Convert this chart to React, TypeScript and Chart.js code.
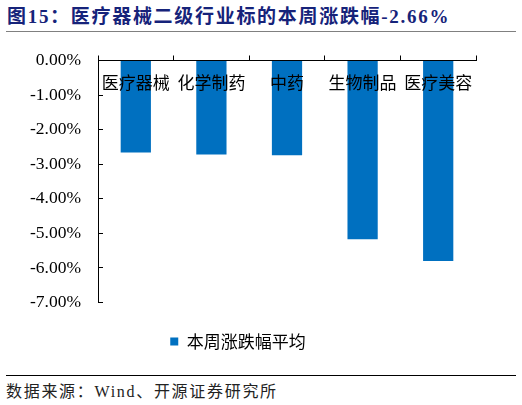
import { useEffect, useRef } from 'react';
import { Chart, registerables } from 'chart.js';

Chart.register(...registerables);

const categories = ['医疗器械', '化学制药', '中药', '生物制品', '医疗美容'];
const weeklyChange = [-2.66, -2.72, -2.74, -5.17, -5.8];
const yTickValues = [0, -1, -2, -3, -4, -5, -6, -7];
const yTickLabels = ['0.00%', '-1.00%', '-2.00%', '-3.00%', '-4.00%', '-5.00%', '-6.00%', '-7.00%'];
const legendLabel = '本周涨跌幅平均';

const cjk = '"Noto Sans CJK SC", sans-serif';
const serif = '"Liberation Serif", "Noto Sans CJK SC", serif';

export default function App() {
  const chartRef = useRef<HTMLCanvasElement>(null);

  useEffect(() => {
    if (!chartRef.current) return;

    const chart = new Chart(chartRef.current, {
      type: 'bar',
      data: {
        labels: categories,
        datasets: [{
          label: legendLabel,
          data: weeklyChange,
          backgroundColor: '#0070C0',
          borderWidth: 0,
          barPercentage: 0.4,
          categoryPercentage: 1,
        }],
      },
      options: {
        animation: false,
        responsive: true,
        maintainAspectRatio: false,
        layout: { padding: { top: 15.5, right: 46, bottom: 0, left: 0 } },
        plugins: {
          legend: {
            position: 'bottom',
            labels: {
              boxWidth: 8,
              boxHeight: 8,
              padding: 30.5,
              color: '#000',
              font: { family: cjk, size: 17 },
            },
          },
          tooltip: { enabled: false },
        },
        scales: {
          x: {
            position: 'top',
            grid: { drawOnChartArea: false, tickLength: 5, color: '#000', offset: true },
            border: { color: '#000', width: 1 },
            ticks: {
              z: 1, // подписи поверх столбцов
              mirror: true,
              padding: 12,
              maxRotation: 0,
              autoSkip: false,
              color: '#000',
              font: { family: cjk, size: 17 },
            },
            afterFit: (s: any) => { s.height = 5; },
          },
          y: {
            min: -7,
            max: 0,
            grid: { drawOnChartArea: false, tickLength: -5, color: '#000' },
            border: { color: '#000', width: 1 },
            ticks: {
              stepSize: 1,
              padding: 22,
              color: '#000',
              font: { family: serif, size: 17.5 },
              callback: (v: any) => {
                const i = yTickValues.indexOf(Number(v));
                return i >= 0 ? yTickLabels[i] : '';
              },
            },
            afterFit: (s: any) => {
              s.width = 98;
              s.paddingTop = 0;
              s.paddingBottom = 0;
            },
          },
        },
      },
    });

    return () => chart.destroy();
  }, []);

  return (
    <div style={{ position: 'fixed', left: 0, top: 0, width: 522, height: 405, background: '#fff', overflow: 'hidden' }}>
      <div style={{
        position: 'absolute', left: 7, top: 5, height: 24, lineHeight: '24px', whiteSpace: 'nowrap',
        fontFamily: serif, fontWeight: 'bold', fontSize: 19, letterSpacing: 1.7, color: '#16237a',
      }}>
        图15：医疗器械二级行业标的本周涨跌幅-2.66%
      </div>
      <div style={{ position: 'absolute', left: 6, top: 30.5, width: 510, height: 1.5, background: '#808080' }} />
      <div style={{ position: 'absolute', left: 0, top: 40, width: 522, height: 320 }}>
        <canvas ref={chartRef} />
      </div>
      <div style={{ position: 'absolute', left: 6, top: 375, width: 510, height: 1, background: '#000' }} />
      <div style={{
        position: 'absolute', left: 6, top: 381, height: 22, lineHeight: '22px', whiteSpace: 'nowrap',
        fontFamily: serif, fontSize: 16, letterSpacing: 1.7, color: '#222',
      }}>
        数据来源：Wind、开源证券研究所
      </div>
    </div>
  );
}
